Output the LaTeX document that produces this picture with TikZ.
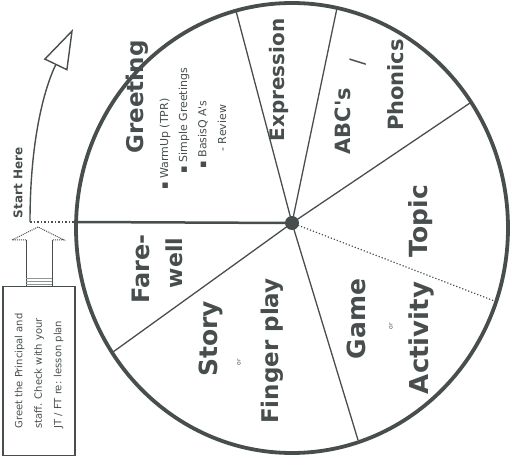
\documentclass[tikz,border=0pt]{standalone}
\usepackage{fontspec}
\setmainfont{DejaVu Sans}
\usepackage{xcolor}
\usetikzlibrary{arrows.meta, calc}
\definecolor{ink}{RGB}{72,78,78}
\newcommand{\fs}[1]{\fontsize{#1}{#1}\selectfont}
\tikzset{
  seg/.style={rotate=90, text=ink, font=\bfseries\fs{20}},
  tiny/.style={rotate=90, text=ink, font=\fs{6}},
  note/.style={rotate=90, anchor=west, text=ink, font=\fontsize{11}{13}\selectfont},
}

\begin{document}
\begin{tikzpicture}[x=1pt, y=1pt]
    \useasboundingbox (0,0) rectangle (512,461);

    % Wheel and spokes
    \coordinate (C) at (292,238);
    \coordinate (L) at (77,239);
    \coordinate (EL) at (236,450);
    \coordinate (ER) at (337,453);
    \coordinate (AT) at (470,358);
    \coordinate (DT) at (497,159);
    \coordinate (GS) at (358,21);
    \coordinate (SF) at (113,109);
    \draw[ink, line width=3.8pt] (292,233) ellipse [x radius=216pt, y radius=225pt];
    \draw[ink, line width=2.5pt] (C) -- (L);
    \foreach \p in {EL, ER, AT, GS, SF}
        \draw[ink, line width=1.3pt] (C) -- (\p);
    \draw[ink, line width=1.2pt, dotted] (C) -- (DT);
    \fill[ink] (C) circle (7pt);

    % Segment labels
    \node[seg, font=\bfseries\fs{23}] (greet) at (137,364) {Greeting};
    \node[note] (warm) at (165,268) {▪ WarmUp (TPR)};
    \node[note] (simple) at (184,284) {▪ Simple Greetings};
    \node[note] (basic) at (203,289) {▪ BasisQ A\textquotesingle s};
    \node[note] (review) at (222,306) {- Review};
    \node[seg] (expr) at (279,381) {Expression};
    \node[seg, font=\bfseries\fs{21}] (abc) at (343,340) {ABC\textquotesingle s};
    \node[seg, font=\fs{20}] (slash) at (358,399) {/};
    \node[seg, font=\bfseries\fs{21}] (phon) at (396,376) {Phonics};
    \node[seg, font=\bfseries\fs{25}] (topic) at (421,240) {Topic};
    \node[seg, font=\bfseries\fs{25}] (game) at (356,142) {Game};
    \node[tiny] (or1) at (391,135) {or};
    \node[seg, font=\bfseries\fs{26}] (act) at (421,123) {Activity};
    \node[seg, font=\bfseries\fs{25}] (story) at (211,122) {Story};
    \node[tiny] (or2) at (239,99) {or};
    \node[seg, font=\bfseries\fs{23}] (finger) at (272,110) {Finger play};
    \node[seg, font=\bfseries\fs{24}] (fare) at (141,192) {Fare-};
    \node[seg, font=\bfseries\fs{22}] (well) at (174,198) {well};

    % Start here
    \coordinate (start) at (30,239);
    \coordinate (go) at (73,432);
    \draw[ink, dotted, line width=1.5pt] (start) -- (L);
    \draw[ink, line width=1.4pt, -{Triangle[open, length=40pt, width=26pt]}]
        (start) .. controls (30,320) and (44,372) .. (go);
    \node[rotate=90, text=ink, font=\bfseries\fs{12}] (here) at (18,278) {Start Here};

    % Box with block arrow
    \node[rotate=90, draw=ink, line width=1.2pt, minimum width=169pt, minimum height=72pt,
          align=left, text=ink, font=\fontsize{10}{19.5}\selectfont] (plan) at (39,90)
        {Greet the Principal and\\ staff. Check with your\\ JT / FT re: lesson plan};
    \draw[ink, line width=1pt] (26,174.6) -- (26,221) (52,174.6) -- (52,221);
    \draw[ink, line width=1pt, densely dotted] (26,221) -- (12,221) -- (38,234) -- (64,221) -- (52,221);
    \foreach \h in {177,180,183}
        \draw[ink!60, line width=0.8pt] (26,\h) -- (52,\h);
\end{tikzpicture}
\end{document}
